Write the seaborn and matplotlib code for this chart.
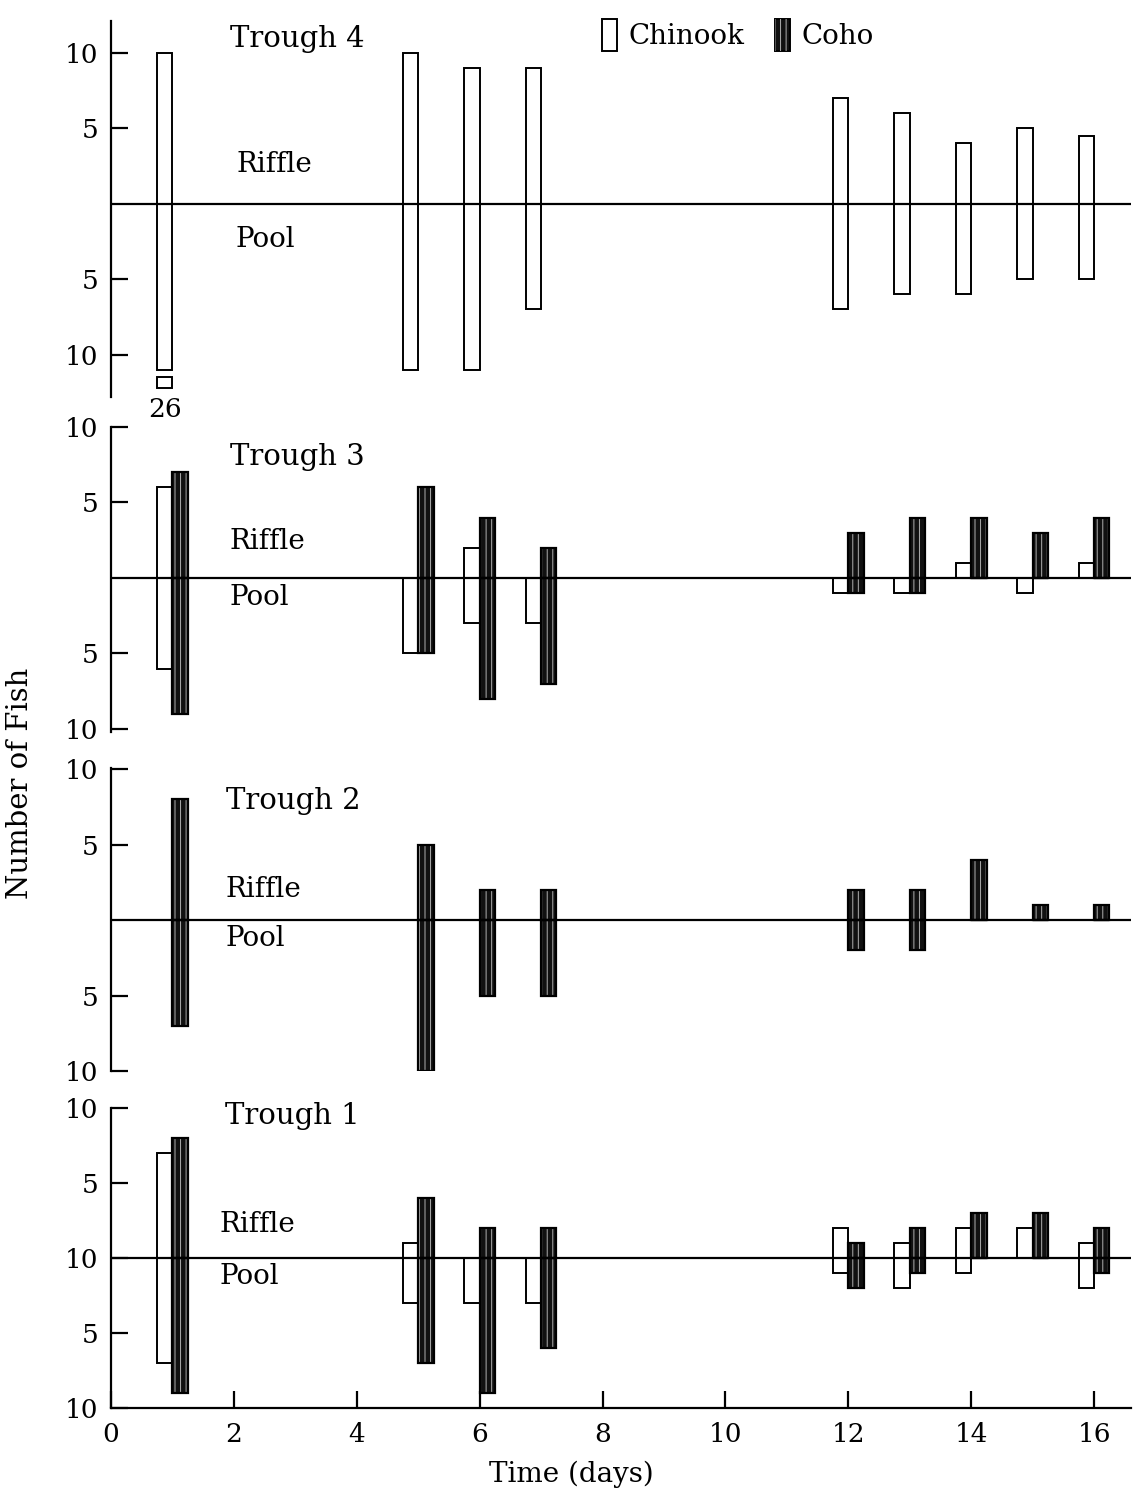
import numpy as np
import pandas as pd
import matplotlib
matplotlib.use("Agg")
import matplotlib.pyplot as plt
from matplotlib.patches import Patch, Rectangle
from matplotlib.legend_handler import HandlerTuple
import seaborn as sns

# Sampling days (x axis)
days = [1, 5, 6, 7, 12, 13, 14, 15, 16]

# Number of fish counted in the riffle (above the line) and pool (below the line)
t4_chinook_riffle = [10, 10, 9, 9, 7, 6, 4, 5, 4.5]
t4_chinook_pool = [26, 11, 11, 7, 7, 6, 6, 5, 5]

t3_chinook_riffle = [6, 0, 2, 0, 0, 0, 1, 0, 1]
t3_chinook_pool = [6, 5, 3, 3, 1, 1, 0, 1, 0]
t3_coho_riffle = [7, 6, 4, 2, 3, 4, 4, 3, 4]
t3_coho_pool = [9, 5, 8, 7, 1, 1, 0, 0, 0]

t2_coho_riffle = [8, 5, 2, 2, 2, 2, 4, 1, 1]
t2_coho_pool = [7, 10, 5, 5, 2, 2, 0, 0, 0]

t1_chinook_riffle = [7, 1, 0, 0, 2, 1, 2, 2, 1]
t1_chinook_pool = [7, 3, 3, 3, 1, 2, 1, 0, 2]
t1_coho_riffle = [8, 4, 2, 2, 1, 2, 3, 3, 2]
t1_coho_pool = [9, 7, 9, 6, 2, 1, 0, 0, 1]

species_order = ["Chinook", "Coho"]
trough_names = ["Trough 4", "Trough 3", "Trough 2", "Trough 1"]
x_ticks = [0, 2, 4, 6, 8, 10, 12, 14, 16]
y_tick_labels_std = ["10", "5", "5", "10"]
y_tick_labels_t1 = ["10", "5", "10", "5", "10"]

COHO_DARK = "#111111"
STREAK = "#b0b0b0"
palette = {"Chinook": "white", "Coho": COHO_DARK}


def long_frame(series):
    rows = []
    for sp, (rif, pool) in series.items():
        for d, r, p in zip(days, rif, pool):
            rows.append(dict(day=d, species=sp, riffle=r, pool=p))
    return pd.DataFrame(rows)


troughs = [
    long_frame({"Chinook": (t4_chinook_riffle, t4_chinook_pool)}),
    long_frame({"Chinook": (t3_chinook_riffle, t3_chinook_pool),
                "Coho": (t3_coho_riffle, t3_coho_pool)}),
    long_frame({"Coho": (t2_coho_riffle, t2_coho_pool)}),
    long_frame({"Chinook": (t1_chinook_riffle, t1_chinook_pool),
                "Coho": (t1_coho_riffle, t1_coho_pool)}),
]

sns.set_style("ticks")
plt.rcParams["font.family"] = ["DejaVu Serif"]
plt.rcParams["hatch.linewidth"] = 0.7
plt.rcParams["axes.linewidth"] = 1.6
for key in ["text.color", "axes.labelcolor", "xtick.color", "ytick.color", "axes.edgecolor"]:
    plt.rcParams[key] = "black"

W, H = 1140, 1495
fig = plt.figure(figsize=(W / 100, H / 100), dpi=100)

# panel layout: (top px, bottom px, y limits, y ticks, tick labels, label positions)
layout = [
    dict(top=21, bottom=397, ylim=(-12.8, 12.1), ticks=[10, 5, -5, -10],
         labels=y_tick_labels_std, title=(1.93, 10.9), riffle=(2.05, 2.6), pool=(2.03, -2.4)),
    dict(top=427, bottom=732, ylim=(-10.2, 10.0), ticks=[10, 5, -5, -10],
         labels=y_tick_labels_std, title=(1.93, 8.0), riffle=(1.93, 2.4), pool=(1.93, -1.3)),
    dict(top=768, bottom=1071, ylim=(-10.0, 10.07), ticks=[10, 5, -5, -10],
         labels=y_tick_labels_std, title=(1.87, 7.9), riffle=(1.87, 2.0), pool=(1.87, -1.2)),
    dict(top=1108, bottom=1408, ylim=(-10.0, 10.0), ticks=[10, 5, 0, -5, -10],
         labels=y_tick_labels_t1, title=(1.85, 9.5), riffle=(1.77, 2.25), pool=(1.77, -1.2)),
]

POOL_CAP = 11
left_px, right_px = 111, 1131
xmax = 16.6


def streak(ax, p):
    ov = Rectangle(p.get_xy(), p.get_width(), p.get_height(), facecolor="none",
                   edgecolor=STREAK, hatch="|||", linewidth=0, zorder=p.get_zorder() + 0.1)
    ax.add_patch(ov)
    out = Rectangle(p.get_xy(), p.get_width(), p.get_height(), facecolor="none",
                    edgecolor="black", linewidth=1.6, zorder=p.get_zorder() + 0.2)
    ax.add_patch(out)


for i, (df, lay, name) in enumerate(zip(troughs, layout, trough_names)):
    ax = fig.add_axes([left_px / W, 1 - lay["bottom"] / H,
                       (right_px - left_px) / W, (lay["bottom"] - lay["top"]) / H])
    df = df.copy()
    df["pool_drawn"] = -np.minimum(df["pool"], POOL_CAP)
    for col in ["riffle", "pool_drawn"]:
        sns.barplot(data=df, x="day", y=col, hue="species", hue_order=species_order,
                    palette=palette, native_scale=True, width=0.5, dodge=True,
                    errorbar=None, saturation=1, edgecolor="black", linewidth=1.4,
                    legend=False, ax=ax, zorder=3)
    for p in list(ax.patches):
        if p.get_facecolor()[0] < 0.5:
            streak(ax, p)

    # broken bars for counts beyond the drawn range
    big = df[df["pool"] > POOL_CAP]
    for _, row in big.iterrows():
        cands = [p for p in ax.patches
                 if abs(p.get_height() + POOL_CAP) < 1e-6 and p.get_facecolor()[0] > 0.5]
        if not cands:
            continue
        p = min(cands, key=lambda q: abs(q.get_x() + q.get_width() / 2 - row["day"]))
        xc = p.get_x() + p.get_width() / 2
        ax.add_patch(Rectangle((p.get_x(), -POOL_CAP - 0.45), p.get_width(), -0.75,
                               facecolor="white", edgecolor="black", linewidth=1.4,
                               clip_on=False, zorder=3))
        ax.text(xc, -13.6, f"{int(row['pool'])}", ha="center", va="center",
                fontsize=19, clip_on=False)

    ax.axhline(0, color="black", linewidth=1.6, zorder=4)
    ax.set_xlim(0, xmax)
    ax.set_ylim(*lay["ylim"])
    ax.set_yticks(lay["ticks"])
    ax.set_yticklabels(lay["labels"])
    ax.tick_params(axis="y", direction="in", length=12, width=1.6, labelsize=19, pad=9)
    ax.set_xlabel("")
    ax.set_ylabel("")
    last = i == len(troughs) - 1
    sns.despine(ax=ax, top=True, right=True, bottom=not last)
    if last:
        ax.set_xticks(x_ticks)
        ax.set_xticklabels([str(t) for t in x_ticks])
        ax.tick_params(axis="x", direction="in", length=12, width=1.6, labelsize=19, pad=10)
    else:
        ax.tick_params(axis="x", bottom=False, labelbottom=False)

    ax.text(*lay["title"], name, fontsize=21, ha="left", va="center")
    ax.text(*lay["riffle"], "Riffle", fontsize=20, ha="left", va="center")
    ax.text(*lay["pool"], "Pool", fontsize=20, ha="left", va="center")
    ax.set_facecolor("none")

fig.text(20 / W, 1 - 783 / H, "Number of Fish", rotation=90, ha="center", va="center",
         fontsize=21)
fig.text(571 / W, 1 - 1474 / H, "Time (days)", ha="center", va="center", fontsize=20)

chinook_handle = Patch(facecolor="white", edgecolor="black", linewidth=1.4)
coho_base = Patch(facecolor=COHO_DARK, edgecolor="black", linewidth=1.4)
coho_streak = Patch(facecolor="none", edgecolor=STREAK, hatch="|||", linewidth=0)
fig.legend(handles=[chinook_handle, (coho_base, coho_streak)], labels=species_order,
           handler_map={tuple: HandlerTuple(ndivide=1)}, loc="center",
           bbox_to_anchor=(0.647, 1 - 35 / H), ncol=2, frameon=False, fontsize=20,
           handlelength=0.55, handleheight=1.45, handletextpad=0.4, columnspacing=1.1)

fig.savefig("out.png", dpi=100, facecolor="white")
